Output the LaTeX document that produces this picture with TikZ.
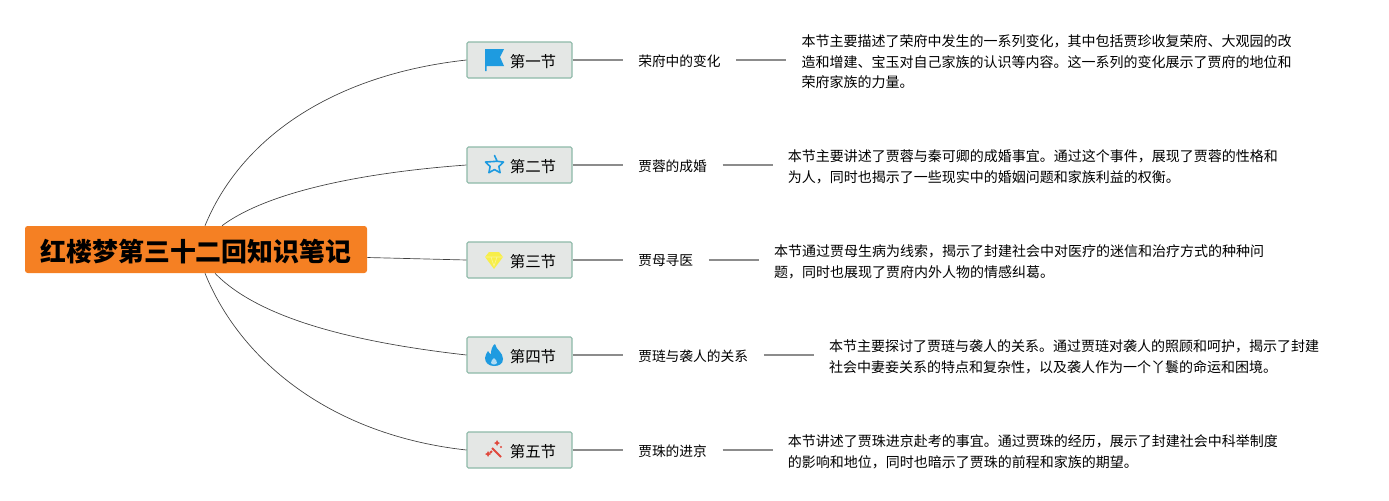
\documentclass[tikz,border=0pt]{standalone}
\usepackage{fontspec}
\setmainfont{Noto Sans CJK SC}
\usetikzlibrary{calc}
\definecolor{rootfill}{HTML}{F58023}
\definecolor{secfill}{HTML}{E4E7E5}
\definecolor{secline}{HTML}{8DB9A8}
\definecolor{iconblue}{HTML}{1E9BE0}
\definecolor{iconyellow}{HTML}{F7EE4A}
\definecolor{iconred}{HTML}{E0483C}
\newcommand{\lowertext}[1]{\raisebox{0pt}[\dimexpr\height+3pt\relax][\depth]{#1}}
\tikzset{
  rootbox/.style={fill=rootfill,rounded corners=2pt,minimum width=256.5pt,minimum height=35.25pt,inner sep=0pt,font=\fontsize{19.4}{22}\selectfont\bfseries},
  secbox/.style={draw=secline,fill=secfill,line width=.8pt,rounded corners=1pt,minimum width=78.75pt,minimum height=27pt,inner sep=0pt,font=\fontsize{11.6}{14}\selectfont},
  labbox/.style={anchor=west,inner xsep=11.6pt,inner ysep=2pt,font=\fontsize{10.3}{13}\selectfont},
  txtbox/.style={anchor=west,align=left,inner xsep=11.25pt,inner ysep=2pt,font=\fontsize{10.5}{15.4}\selectfont},
  curve/.style={draw=black!75,line width=.5pt},
  stub/.style={draw=black!45,line width=.8pt}
}
\begin{document}
\begin{tikzpicture}[x=.75pt,y=-.75pt]
      \useasboundingbox (0,0) rectangle (1389,500);
      \node[rootbox] (root) at (196,249.5) {\lowertext{红楼梦第三十二回知识笔记}};
      \foreach \i/\y/\sec in {1/60/第一节,2/165/第二节,3/260/第三节,4/355/第四节,5/450/第五节} {
        \node[secbox] (sec\i) at (519.5,\y) {\hspace{20.25pt}\lowertext{\sec}};
      }
      % branches out of the root
      \draw[curve] ($(root.north)+(9,0)$) .. controls (240,140) and (330,75) .. (sec1.west);
      \draw[curve] ($(root.north)+(26,0)$) .. controls (270,190) and (370,172) .. (sec2.west);
      \draw[curve] ($(root.east)+(0,8)$) -- (sec3.west);
      \draw[curve] ($(root.south)+(19,0)$) .. controls (260,320) and (360,343) .. (sec4.west);
      \draw[curve] ($(root.south)+(9,0)$) .. controls (240,360) and (330,435) .. (sec5.west);
      % second and third level
      \foreach \i/\lab/\txt in {
        1/荣府中的变化/{本节主要描述了荣府中发生的一系列变化，其中包括贾珍收复荣府、大观园的改\\造和增建、宝玉对自己家族的认识等内容。这一系列的变化展示了贾府的地位和\\荣府家族的力量。},
        2/贾蓉的成婚/{本节主要讲述了贾蓉与秦可卿的成婚事宜。通过这个事件，展现了贾蓉的性格和\\为人，同时也揭示了一些现实中的婚姻问题和家族利益的权衡。},
        3/贾母寻医/{本节通过贾母生病为线索，揭示了封建社会中对医疗的迷信和治疗方式的种种问\\题，同时也展现了贾府内外人物的情感纠葛。},
        4/贾琏与袭人的关系/{本节主要探讨了贾琏与袭人的关系。通过贾琏对袭人的照顾和呵护，揭示了封建\\社会中妻妾关系的特点和复杂性，以及袭人作为一个丫鬟的命运和困境。},
        5/贾珠的进京/{本节讲述了贾珠进京赴考的事宜。通过贾珠的经历，展示了封建社会中科举制度\\的影响和地位，同时也暗示了贾珠的前程和家族的期望。}} {
        \node[labbox] (lab\i) at ($(sec\i.east)+(50,1)$) {\lab};
        \node[txtbox] (txt\i) at ($(lab\i.east)+(50,1)$) {\txt};
        \draw[stub] (sec\i.east) -- (sec\i.east -| lab\i.west);
        \draw[stub] (sec\i.east -| lab\i.east) -- ++(50,0);
      }
      % icons
      \begin{scope}[shift={(494,60)}]
        \fill[iconblue] (-9,-11) -- (10,-11) -- (6,-3) -- (10,6) -- (-7.5,6) -- (-7.5,11) -- (-9,11) -- cycle;
      \end{scope}
      \begin{scope}[shift={(494.5,165)}]
        \draw[iconblue,line width=1.2pt,line join=round] (-90:9.5) \foreach \a in {1,...,4} { -- (-90+\a*72-36:4.6) -- (-90+\a*72:9.5) } -- (-54:4.6) -- cycle;
      \end{scope}
      \begin{scope}[shift={(494,260)}]
        \fill[iconyellow] (-5,-8) -- (5,-8) -- (9,-3) -- (0,9) -- (-9,-3) -- cycle;
        \draw[iconyellow!55!white,line width=.4pt] (-9,-3) -- (9,-3) (-3,-3) -- (0,6) -- (3,-3);
      \end{scope}
      \begin{scope}[shift={(494,355)}]
        \fill[iconblue] (1,-11) .. controls (2,-5) and (9,-3) .. (9,4) .. controls (9,9) and (5,11) .. (0,11)
          .. controls (-5,11) and (-9,8) .. (-9,3) .. controls (-9,0) and (-7,-2) .. (-6,-4)
          .. controls (-5,-2) and (-4,-1) .. (-3,-1) .. controls (-3,-5) and (-2,-9) .. (1,-11) -- cycle;
        \fill[iconblue!35!white] (0,3) .. controls (1,5) and (4,6) .. (3,8) .. controls (2,10) and (-2,10) .. (-3,8) .. controls (-4,6) and (-1,5) .. (0,3) -- cycle;
      \end{scope}
      \begin{scope}[shift={(494,450)}]
        \draw[iconred,line width=1.5pt] (-2,-2) -- (7,7);
        \draw[iconred,line width=1.5pt] (-2,1) -- (-4,3);
        \fill[iconred] (3,-10) -- (4,-8) -- (6,-7) -- (4,-6) -- (3,-4) -- (2,-6) -- (0,-7) -- (2,-8) -- cycle;
        \fill[iconred] (-6,1) -- (-5,3) -- (-3,4) -- (-5,5) -- (-6,7) -- (-7,5) -- (-9,4) -- (-7,3) -- cycle;
        \fill[iconred] (7,-3) circle (1.2);
      \end{scope}
    \end{tikzpicture}
\end{document}
